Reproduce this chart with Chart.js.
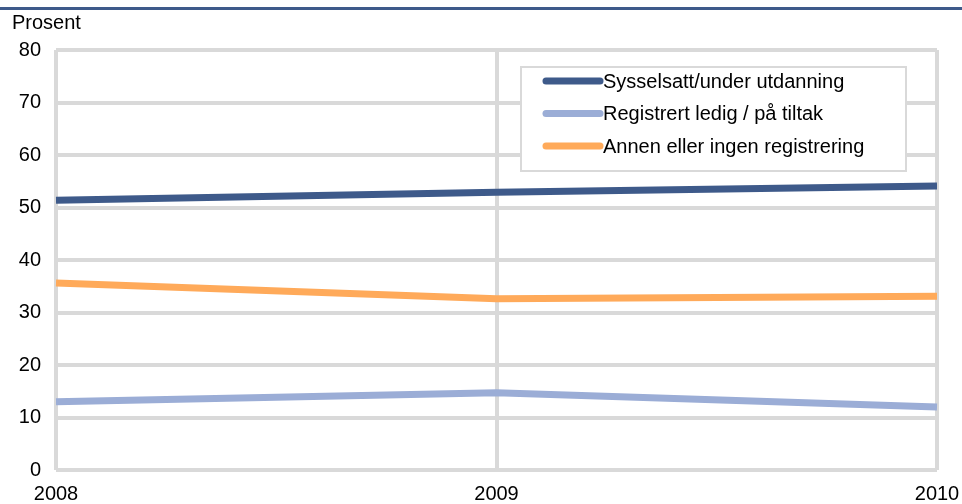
<!DOCTYPE html>
<html lang="no">
<head>
    <meta charset="UTF-8">
    <title>Prosent 2008-2010</title>
    <script src="https://cdn.jsdelivr.net/npm/chart.js"></script>
    <style>
        html, body { margin: 0; padding: 0; background: #fff; }
        #wrap { width: 962px; height: 504px; position: relative; }
    </style>
</head>
<body>
    <div id="wrap"><canvas id="graf"></canvas></div>

    <script>
        var aar = ['2008', '2009', '2010'];
        var serieNavn = ['Sysselsatt/under utdanning', 'Registrert ledig / på tiltak', 'Annen eller ingen registrering'];
        var sysselsatt = [51.4, 52.9, 54.1];
        var registrert = [13.0, 14.7, 12.0];
        var annen = [35.6, 32.6, 33.1];
        var yTicks = [0, 10, 20, 30, 40, 50, 60, 70, 80];
        var farger = ['#3e5a8a', '#9badd6', '#ffaa5a'];

        var skrift = { family: "'Liberation Sans', Arial, sans-serif", size: 20 };

        // top rule + "Prosent" label + legend box drawn by hand
        var pynt = {
            id: 'pynt',
            beforeDraw: function(chart) {
                var c = chart.ctx;
                c.save();
                c.fillStyle = '#3e5a8a';
                c.fillRect(0, 7, chart.width, 3);
                c.fillStyle = '#000';
                c.font = "20px 'Liberation Sans', Arial, sans-serif";
                c.textBaseline = 'middle';
                c.fillText('Prosent', 12, 23);
                c.restore();
            },
            afterDatasetsDraw: function(chart) {
                var c = chart.ctx;
                c.save();
                c.fillStyle = '#fff';
                c.fillRect(521, 67, 385, 104);
                c.strokeStyle = '#d9d9d9';
                c.lineWidth = 2;
                c.strokeRect(521, 67, 385, 104);
                c.font = "20px 'Liberation Sans', Arial, sans-serif";
                c.textBaseline = 'middle';
                chart.data.datasets.forEach(function(ds, i) {
                    var y = 81 + i * 32.5;
                    c.strokeStyle = ds.borderColor;
                    c.lineWidth = 7;
                    c.lineCap = 'round';
                    c.beginPath();
                    c.moveTo(546, y);
                    c.lineTo(600, y);
                    c.stroke();
                    c.fillStyle = '#000';
                    c.fillText(ds.label, 603, y + 1);
                });
                c.restore();
            }
        };

        function lagSerie(i, data) {
            return {
                label: serieNavn[i],
                data: data,
                borderColor: farger[i],
                backgroundColor: farger[i],
                borderWidth: 7,
                pointRadius: 0,
                tension: 0,
                fill: false
            };
        }

        var ctx = document.getElementById('graf').getContext('2d');
        var graf = new Chart(ctx, {
            type: 'line',
            data: {
                labels: aar,
                datasets: [lagSerie(0, sysselsatt), lagSerie(1, registrert), lagSerie(2, annen)]
            },
            options: {
                responsive: true,
                maintainAspectRatio: false,
                animation: false,
                layout: { padding: { top: 50, right: 25, left: 0, bottom: 0 } },
                plugins: {
                    legend: { display: false },
                    tooltip: { enabled: false }
                },
                scales: {
                    x: {
                        offset: false,
                        grid: { color: '#d9d9d9', lineWidth: 4, drawTicks: false },
                        border: { display: false },
                        ticks: { color: '#000', font: skrift, padding: 12, maxRotation: 0, autoSkip: false },
                        afterFit: function(s) { s.height = 34; s.paddingLeft = 0; s.paddingRight = 0; }
                    },
                    y: {
                        min: 0,
                        max: 80,
                        afterBuildTicks: function(s) { s.ticks = yTicks.map(function(v) { return { value: v }; }); },
                        grid: { color: '#d9d9d9', lineWidth: 4, drawTicks: false },
                        border: { display: false },
                        ticks: { color: '#000', font: skrift, padding: 15 },
                        afterFit: function(s) { s.width = 56; s.paddingTop = 0; s.paddingBottom = 0; }
                    }
                }
            },
            plugins: [pynt]
        });
    </script>
</body>
</html>
